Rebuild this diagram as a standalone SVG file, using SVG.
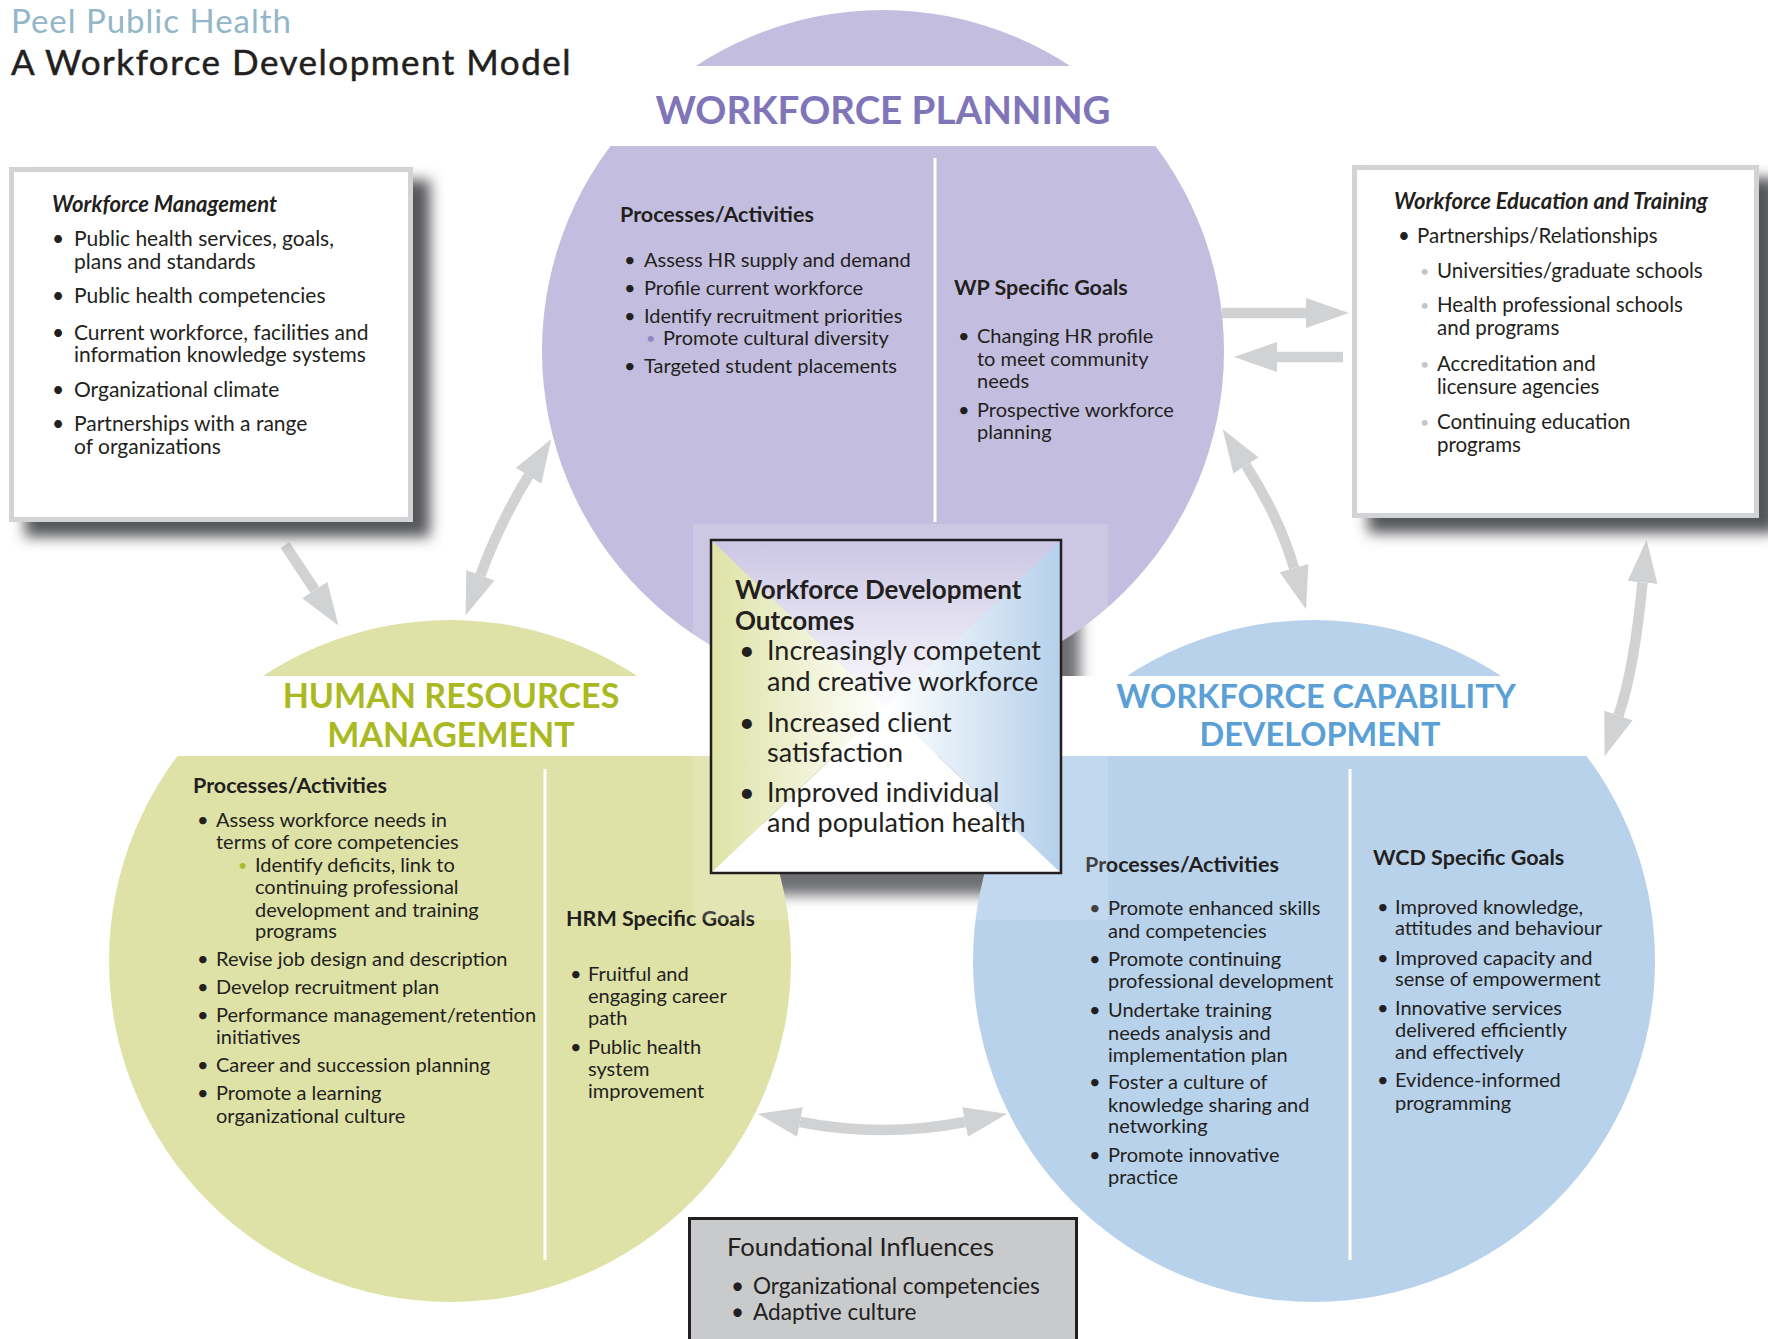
<svg xmlns="http://www.w3.org/2000/svg" width="1768" height="1339" viewBox="0 0 1768 1339">
  <defs>
    <style>
      text { font-family: Lato, "Open Sans", "Liberation Sans", sans-serif; fill: #231f20; }
      .body { font-size: 20px; }
      .lbox { font-size: 21px; }
      .rbox { font-size: 20.5px; }
      .head { font-size: 21.5px; font-weight: 700; }
      .boxhead { font-size: 22px; font-weight: 700; font-style: italic; }
      .big { font-size: 27px; }
      .bighead { font-size: 26px; font-weight: 700; }
      .ttl { font-weight: 700; text-anchor: middle; }
      .wp-ttl { font-size: 38.5px; fill: #8075b9; }
      .hrm-ttl { font-size: 34px; fill: #a9b91f; }
      .wcd-ttl { font-size: 32.5px; fill: #5a9fd5; }
      .sub-wp { fill: #8f88c4; font-size: 16px; }
      .sub-hrm { fill: #a9bc2a; font-size: 16px; }
      .sub-wet { fill: #c5c6c8; font-size: 16px; }
      .divider { stroke: #ffffff; stroke-width: 3; }
      .frame { fill: #ffffff; stroke: #d1d3d4; stroke-width: 5; }
      .shadow { fill: #55565a; filter: url(#soft); }
      .shaft { fill: none; stroke: #d1d2d4; stroke-width: 10.5; marker-end: url(#head); }
      .both { marker-start: url(#head); }
    </style>
    <filter id="soft" x="-20%" y="-20%" width="140%" height="140%">
      <feGaussianBlur stdDeviation="7"/>
    </filter>
    <marker id="head" viewBox="0 0 43 30" refX="0" refY="15" markerWidth="43" markerHeight="30" markerUnits="userSpaceOnUse" orient="auto-start-reverse">
      <path d="M0,0 L43,15 L0,30 z" fill="#d1d2d4"/>
    </marker>
    <clipPath id="cut-top">
      <rect x="0" y="0" width="1768" height="66"/>
      <rect x="0" y="146" width="1768" height="1193"/>
    </clipPath>
    <clipPath id="cut-mid">
      <rect x="0" y="0" width="1768" height="676"/>
      <rect x="0" y="756" width="1768" height="583"/>
    </clipPath>
    <linearGradient id="g-top" gradientUnits="userSpaceOnUse" x1="0" y1="540" x2="0" y2="706">
      <stop offset="0" stop-color="#cbc6e4"/>
      <stop offset="1" stop-color="#fbfbfe"/>
    </linearGradient>
    <linearGradient id="g-left" gradientUnits="userSpaceOnUse" x1="711" y1="0" x2="886" y2="0">
      <stop offset="0" stop-color="#dde3a6"/>
      <stop offset="1" stop-color="#ffffff"/>
    </linearGradient>
    <linearGradient id="g-right" gradientUnits="userSpaceOnUse" x1="1061" y1="0" x2="886" y2="0">
      <stop offset="0" stop-color="#b5d0eb"/>
      <stop offset="1" stop-color="#ffffff"/>
    </linearGradient>
  </defs>

  <rect width="1768" height="1339" fill="#ffffff"/>

  <!-- heading -->
  <g id="header">
    <text x="11" y="33" style="font-size:33px; letter-spacing:1px; fill:#93b6c8">Peel Public Health</text>
    <text x="11" y="75" style="font-size:35px; letter-spacing:1.5px; stroke:#231f20; stroke-width:0.5">A Workforce Development Model</text>
  </g>

  <!-- drop shadow of the outcomes panel, sits under the three circles -->
  <g id="outcomes-shadow" clip-path="url(#cut-mid)">
    <rect class="shadow" x="725" y="555" width="355" height="340"/>
  </g>

  <!-- Workforce Planning -->
  <g id="workforce-planning">
    <circle cx="883" cy="351" r="341" fill="#c3bedf" clip-path="url(#cut-top)"/>
    <line class="divider" x1="935" y1="158" x2="935" y2="522"/>
    <text class="ttl wp-ttl" x="883" y="124">WORKFORCE PLANNING</text>
    <text class="head" x="620" y="222">Processes/Activities</text>
    <text class="body">
      <tspan x="624" y="267">•</tspan><tspan x="644" y="267">Assess HR supply and demand</tspan>
      <tspan x="624" y="295">•</tspan><tspan x="644" y="295">Profile current workforce</tspan>
      <tspan x="624" y="323">•</tspan><tspan x="644" y="323">Identify recruitment priorities</tspan>
      <tspan x="663" y="345">Promote cultural diversity</tspan>
      <tspan x="624" y="373">•</tspan><tspan x="644" y="373">Targeted student placements</tspan>
    </text>
    <text class="sub-wp" x="646" y="344">•</text>
    <text class="head" x="954" y="295">WP Specific Goals</text>
    <text class="body">
      <tspan x="958" y="343">•</tspan><tspan x="977" y="343">Changing HR profile</tspan>
      <tspan x="977" y="366">to meet community</tspan>
      <tspan x="977" y="388">needs</tspan>
      <tspan x="958" y="417">•</tspan><tspan x="977" y="417">Prospective workforce</tspan>
      <tspan x="977" y="439">planning</tspan>
    </text>
  </g>

  <!-- Human Resources Management -->
  <g id="hr-management">
    <circle cx="450" cy="961" r="341" fill="#dee2a7" clip-path="url(#cut-mid)"/>
    <line class="divider" x1="545" y1="769" x2="545" y2="1260"/>
    <text class="ttl hrm-ttl" x="451" y="708">HUMAN RESOURCES</text>
    <text class="ttl hrm-ttl" x="451" y="747">MANAGEMENT</text>
    <text class="head" x="193" y="793">Processes/Activities</text>
    <text class="body">
      <tspan x="197" y="827">•</tspan><tspan x="216" y="827">Assess workforce needs in</tspan>
      <tspan x="216" y="849">terms of core competencies</tspan>
      <tspan x="255" y="872">Identify deficits, link to</tspan>
      <tspan x="255" y="894">continuing professional</tspan>
      <tspan x="255" y="917">development and training</tspan>
      <tspan x="255" y="938">programs</tspan>
      <tspan x="197" y="966">•</tspan><tspan x="216" y="966">Revise job design and description</tspan>
      <tspan x="197" y="994">•</tspan><tspan x="216" y="994">Develop recruitment plan</tspan>
      <tspan x="197" y="1022">•</tspan><tspan x="216" y="1022">Performance management/retention</tspan>
      <tspan x="216" y="1044">initiatives</tspan>
      <tspan x="197" y="1072">•</tspan><tspan x="216" y="1072">Career and succession planning</tspan>
      <tspan x="197" y="1100">•</tspan><tspan x="216" y="1100">Promote a learning</tspan>
      <tspan x="216" y="1123">organizational culture</tspan>
    </text>
    <text class="sub-hrm" x="238" y="871">•</text>
    <text class="head" x="566" y="926">HRM Specific Goals</text>
    <text class="body">
      <tspan x="570" y="981">•</tspan><tspan x="588" y="981">Fruitful and</tspan>
      <tspan x="588" y="1003">engaging career</tspan>
      <tspan x="588" y="1025">path</tspan>
      <tspan x="570" y="1054">•</tspan><tspan x="588" y="1054">Public health</tspan>
      <tspan x="588" y="1076">system</tspan>
      <tspan x="588" y="1098">improvement</tspan>
    </text>
  </g>

  <!-- Workforce Capability Development -->
  <g id="capability-development">
    <circle cx="1314" cy="961" r="341" fill="#b8d2eb" clip-path="url(#cut-mid)"/>
    <line class="divider" x1="1350" y1="769" x2="1350" y2="1260"/>
    <text class="ttl wcd-ttl" x="1316" y="708">WORKFORCE CAPABILITY</text>
    <text class="ttl wcd-ttl" x="1320" y="746">DEVELOPMENT</text>
    <text class="head" x="1085" y="872">Processes/Activities</text>
    <text class="body">
      <tspan x="1089" y="915">•</tspan><tspan x="1108" y="915">Promote enhanced skills</tspan>
      <tspan x="1108" y="938">and competencies</tspan>
      <tspan x="1089" y="966">•</tspan><tspan x="1108" y="966">Promote continuing</tspan>
      <tspan x="1108" y="988">professional development</tspan>
      <tspan x="1089" y="1017">•</tspan><tspan x="1108" y="1017">Undertake training</tspan>
      <tspan x="1108" y="1040">needs analysis and</tspan>
      <tspan x="1108" y="1062">implementation plan</tspan>
      <tspan x="1089" y="1089">•</tspan><tspan x="1108" y="1089">Foster a culture of</tspan>
      <tspan x="1108" y="1112">knowledge sharing and</tspan>
      <tspan x="1108" y="1133">networking</tspan>
      <tspan x="1089" y="1162">•</tspan><tspan x="1108" y="1162">Promote innovative</tspan>
      <tspan x="1108" y="1184">practice</tspan>
    </text>
    <text class="head" x="1373" y="865">WCD Specific Goals</text>
    <text class="body">
      <tspan x="1377" y="914">•</tspan><tspan x="1395" y="914">Improved knowledge,</tspan>
      <tspan x="1395" y="935">attitudes and behaviour</tspan>
      <tspan x="1377" y="965">•</tspan><tspan x="1395" y="965">Improved capacity and</tspan>
      <tspan x="1395" y="986">sense of empowerment</tspan>
      <tspan x="1377" y="1015">•</tspan><tspan x="1395" y="1015">Innovative services</tspan>
      <tspan x="1395" y="1037">delivered efficiently</tspan>
      <tspan x="1395" y="1059">and effectively</tspan>
      <tspan x="1377" y="1087">•</tspan><tspan x="1395" y="1087">Evidence-informed</tspan>
      <tspan x="1395" y="1110">programming</tspan>
    </text>
  </g>

  <!-- connectors between the boxes and circles -->
  <g id="connectors">
    <path class="shaft" d="M285,545 L314.8,590"/>
    <path class="shaft both" d="M480.4,575.2 Q500,522 528.6,475.8"/>
    <path class="shaft" d="M1222,313 L1306,313"/>
    <path class="shaft" d="M1343,357 L1277,357"/>
    <path class="shaft both" d="M1246,465.5 Q1279.2,517.1 1294,568"/>
    <path class="shaft both" d="M1642.5,582.5 Q1634.1,669.9 1618.5,715.5"/>
    <path class="shaft both" d="M800,1122 Q882.5,1138 965,1122"/>
  </g>

  <!-- Workforce Management box -->
  <g id="workforce-management">
    <rect class="shadow" x="25" y="180" width="405" height="357"/>
    <rect class="frame" x="11.5" y="169.5" width="399" height="350"/>
    <text class="boxhead" x="52" y="212">Workforce Management</text>
    <text class="lbox">
      <tspan x="52" y="246">•</tspan><tspan x="74" y="246">Public health services, goals,</tspan>
      <tspan x="74" y="269">plans and standards</tspan>
      <tspan x="52" y="303">•</tspan><tspan x="74" y="303">Public health competencies</tspan>
      <tspan x="52" y="340">•</tspan><tspan x="74" y="340">Current workforce, facilities and</tspan>
      <tspan x="74" y="362">information knowledge systems</tspan>
      <tspan x="52" y="397">•</tspan><tspan x="74" y="397">Organizational climate</tspan>
      <tspan x="52" y="431">•</tspan><tspan x="74" y="431">Partnerships with a range</tspan>
      <tspan x="74" y="454">of organizations</tspan>
    </text>
  </g>

  <!-- Workforce Education and Training box -->
  <g id="education-training">
    <rect class="shadow" x="1368" y="178" width="410" height="355"/>
    <rect class="frame" x="1354.5" y="167.5" width="402" height="348"/>
    <text class="boxhead" x="1394" y="209">Workforce Education and Training</text>
    <text class="rbox">
      <tspan x="1398" y="243">•</tspan><tspan x="1417" y="243">Partnerships/Relationships</tspan>
      <tspan x="1437" y="278">Universities/graduate schools</tspan>
      <tspan x="1437" y="312">Health professional schools</tspan>
      <tspan x="1437" y="335">and programs</tspan>
      <tspan x="1437" y="371">Accreditation and</tspan>
      <tspan x="1437" y="394">licensure agencies</tspan>
      <tspan x="1437" y="429">Continuing education</tspan>
      <tspan x="1437" y="452">programs</tspan>
    </text>
    <text class="sub-wet">
      <tspan x="1420" y="277">•</tspan>
      <tspan x="1420" y="311">•</tspan>
      <tspan x="1420" y="370">•</tspan>
      <tspan x="1420" y="428">•</tspan>
    </text>
  </g>

  <!-- Workforce Development Outcomes panel -->
  <g id="outcomes">
    <rect x="693" y="524" width="415" height="396" fill="#ffffff" opacity="0.15"/>
    <polygon points="711,873 1061,873 886,706.5" fill="#ffffff"/>
    <polygon points="711,540 1061,540 886,706.5" fill="url(#g-top)"/>
    <polygon points="711,540 711,873 886,706.5" fill="url(#g-left)"/>
    <polygon points="1061,540 1061,873 886,706.5" fill="url(#g-right)"/>
    <rect x="711" y="540" width="350" height="333" fill="none" stroke="#231f20" stroke-width="2.5"/>
    <text class="bighead">
      <tspan x="735" y="599">Workforce Development</tspan>
      <tspan x="735" y="630">Outcomes</tspan>
    </text>
    <text class="big">
      <tspan x="739" y="660">•</tspan><tspan x="767" y="660">Increasingly competent</tspan>
      <tspan x="767" y="691">and creative workforce</tspan>
      <tspan x="739" y="732">•</tspan><tspan x="767" y="732">Increased client</tspan>
      <tspan x="767" y="762">satisfaction</tspan>
      <tspan x="739" y="802">•</tspan><tspan x="767" y="802">Improved individual</tspan>
      <tspan x="767" y="832">and population health</tspan>
    </text>
  </g>

  <!-- Foundational Influences panel -->
  <g id="foundational-influences">
    <rect x="689.5" y="1218.5" width="387" height="140" fill="#c9cacc" stroke="#231f20" stroke-width="3"/>
    <text x="727" y="1256" style="font-size:25.5px">Foundational Influences</text>
    <text style="font-size:22.6px">
      <tspan x="731" y="1294">•</tspan><tspan x="753" y="1294">Organizational competencies</tspan>
      <tspan x="731" y="1320">•</tspan><tspan x="753" y="1320">Adaptive culture</tspan>
    </text>
  </g>
</svg>
